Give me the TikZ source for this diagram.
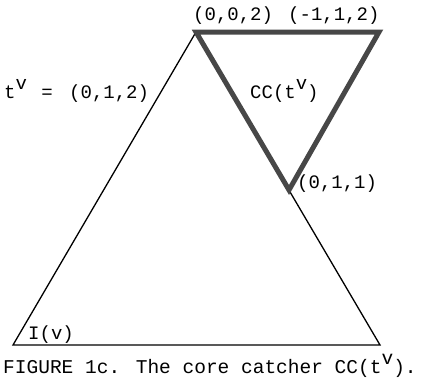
\documentclass[tikz,border=0pt]{standalone}
\usepackage{fontspec}
\setmainfont{Liberation Mono}
\newcommand{\supv}{\raisebox{0.45em}{v}}
\begin{document}
\begin{tikzpicture}[x=1pt,y=-1pt,
  lbl/.style={inner sep=0pt,font=\fontsize{19}{21}\selectfont},
  thin tri/.style={draw=black,line width=1.3pt,line join=miter},
  thick tri/.style={draw=black!72,line width=5pt,line join=miter}]
\useasboundingbox (0,0) rectangle (433,380);
\coordinate (A) at (196,32);
\coordinate (L) at (13,345);
\coordinate (R) at (380,345);
\coordinate (B) at (379,32);
\coordinate (C) at (289,190);
\draw[thin tri] (A) -- (L) -- (R) -- cycle;
\draw[thick tri] (A) -- (B) -- (C) -- cycle;
\node[lbl,anchor=base west] (p002) at (193,20) {(0,0,2)};
\node[lbl,anchor=base west] (pm112) at (288,20) {(-1,1,2)};
\node[lbl,anchor=base west] (tv) at (4,98) {t\supv{}\hspace{3pt} =\hspace{5pt} (0,1,2)};
\node[lbl,anchor=base west] (cc) at (250,98) {CC(t\supv)};
\node[lbl,anchor=base west] (p011) at (297,188) {(0,1,1)};
\node[lbl,anchor=base west] (iv) at (28,339) {I(v)};
\node[lbl,anchor=base west,font=\fontsize{19.5}{21}\selectfont] (cap) at (3,373) {FIGURE 1c. The core catcher CC(t\supv).};
\end{tikzpicture}
\end{document}
